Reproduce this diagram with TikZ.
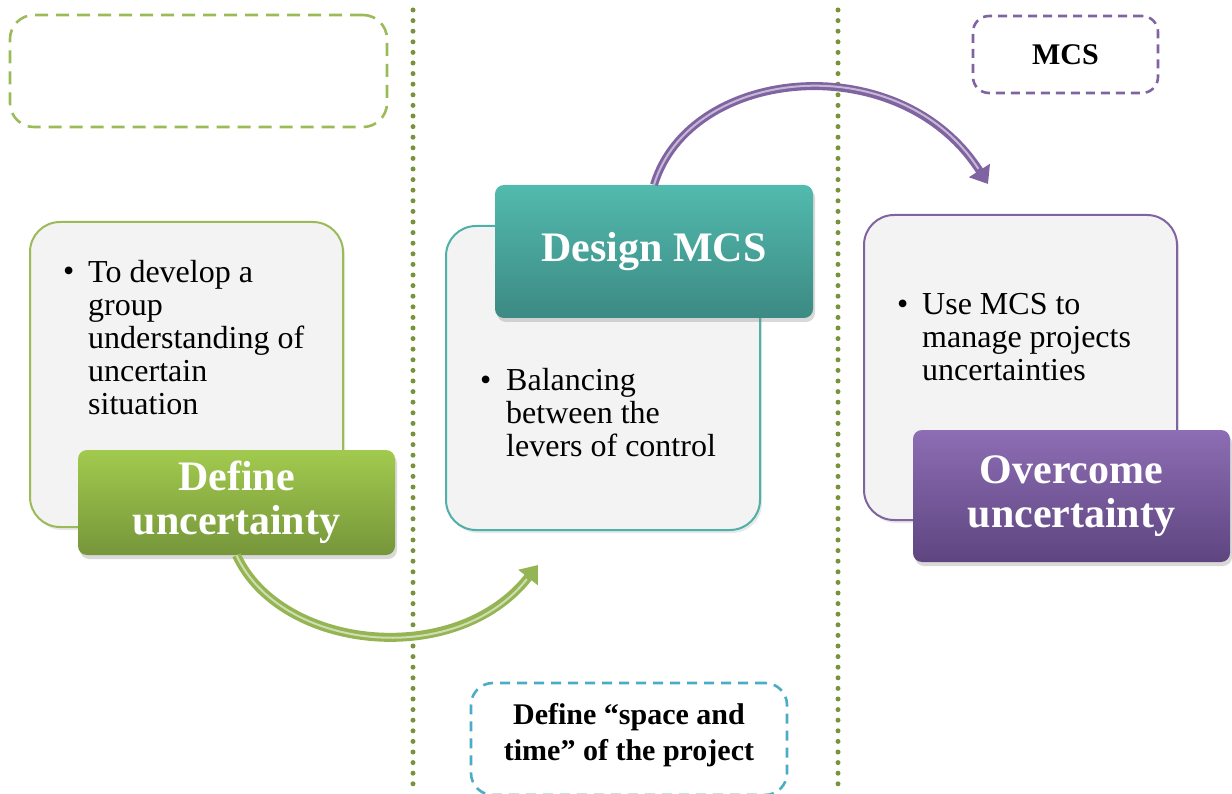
\documentclass[tikz,border=0pt]{standalone}
\usepackage{fontspec}
\setmainfont{Liberation Serif}
\usetikzlibrary{arrows.meta,shadows}
\definecolor{gline}{HTML}{9BBB59}
\definecolor{gtop}{HTML}{A2CA4E}
\definecolor{gbot}{HTML}{76963A}
\definecolor{gdot}{HTML}{77933C}
\definecolor{tline}{HTML}{4FB0A8}
\definecolor{ttop}{HTML}{52BAAE}
\definecolor{tbot}{HTML}{3C8A83}
\definecolor{tdash}{HTML}{4BACC6}
\definecolor{pline}{HTML}{8064A2}
\definecolor{ptop}{HTML}{8D6DB4}
\definecolor{pbot}{HTML}{5E4580}
\definecolor{boxfill}{HTML}{F3F3F3}
\begin{document}
\begin{tikzpicture}[x=1pt,y=-1pt,
  lightbox/.style={draw, line width=2pt, fill=boxfill, rounded corners=30pt, inner sep=0pt,
    drop shadow={opacity=0.18, shadow xshift=2pt, shadow yshift=-3pt}},
  titlebox/.style={rounded corners=9pt, inner sep=0pt, align=center, text=white,
    font=\fontsize{42}{44}\selectfont\bfseries,
    drop shadow={opacity=0.3, shadow xshift=2pt, shadow yshift=-4pt}},
  dashbox/.style={line width=2.6pt, inner sep=0pt, align=center,
    font=\fontsize{30}{36}\selectfont\bfseries},
  bodytext/.style={anchor=north west, inner sep=0pt, align=left,
    font=\fontsize{32}{33}\selectfont},
  bullet/.style={anchor=base west, inner sep=0pt, font=\fontsize{32}{33}\selectfont},
  dotline/.style={gdot, line width=5pt, line cap=round, dash pattern=on 0pt off 10.6pt},
  garrow/.style={line width=9pt, color=gline!85!gbot, -{Triangle[length=16pt,width=24pt]}},
  parrow/.style={line width=8pt, color=pline, -{Triangle[length=16pt,width=24pt]}},
  hilite/.style={line width=2pt, color=white, opacity=0.55}
]
\useasboundingbox (0,0) rectangle (1232,794);

% dotted separators
\draw[dotline] (413,10) -- (413,794);
\draw[dotline] (838,10) -- (838,794);

% dashed label boxes
\node[dashbox, draw=gline, dash pattern=on 13pt off 8pt, rounded corners=24pt,
  minimum width=377pt, minimum height=112pt] (db1) at (198.5,71) {};
\node[dashbox, draw=pline, dash pattern=on 9pt off 6pt, rounded corners=16pt,
  minimum width=185pt, minimum height=77pt] (db2) at (1065.5,54.5) {MCS};
\node[dashbox, draw=tdash, dash pattern=on 10pt off 7pt, rounded corners=22pt,
  minimum width=316pt, minimum height=112pt] (db3) at (629,739) {};
\node[dashbox, anchor=center] (db3t) at (629,735) {Define ``space and\\time'' of the project};

% light content boxes
\node[lightbox, draw=gline, minimum width=313pt, minimum height=305pt] (lb1) at (186.5,374.5) {};
\node[lightbox, draw=tline, minimum width=314pt, minimum height=304pt] (lb2) at (603,378) {};
\node[lightbox, draw=pline, minimum width=313pt, minimum height=305pt] (lb3) at (1020.5,367.5) {};

% body texts
\node[bullet] (b1) at (63,282) {\textbullet};
\node[bodytext] (t1) at (88,260) {To develop a\\group\\understanding of\\uncertain\\situation};
\node[bullet] (b2) at (480,390) {\textbullet};
\node[bodytext] (t2) at (506,368) {Balancing\\between the\\levers of control};
\node[bullet] (b3) at (897,315) {\textbullet};
\node[bodytext] (t3) at (922,293) {Use MCS to\\manage projects\\uncertainties};

% title boxes
\node[titlebox, top color=gtop, bottom color=gbot, minimum width=317pt, minimum height=105pt]
  (gt) at (236.5,502.5) {Define\\uncertainty};
\node[titlebox, top color=ttop, bottom color=tbot, minimum width=318pt, minimum height=133pt]
  (dt) at (654,251.5) {Design MCS};
\node[titlebox, top color=ptop, bottom color=pbot, minimum width=317pt, minimum height=132pt]
  (pt) at (1071.5,496) {Overcome\\uncertainty};

% arrows
\coordinate (ge) at (538,565);
\coordinate (pe) at (988,184);
\draw[garrow] (gt.south) .. controls (280,650) and (455,670) .. (ge);
\draw[hilite, shorten >=18pt] (gt.south) .. controls (280,650) and (455,670) .. (ge);
\draw[parrow] (dt.north) .. controls (690,66) and (900,46) .. (pe);
\draw[hilite, shorten >=18pt] (dt.north) .. controls (690,66) and (900,46) .. (pe);
\end{tikzpicture}
\end{document}
